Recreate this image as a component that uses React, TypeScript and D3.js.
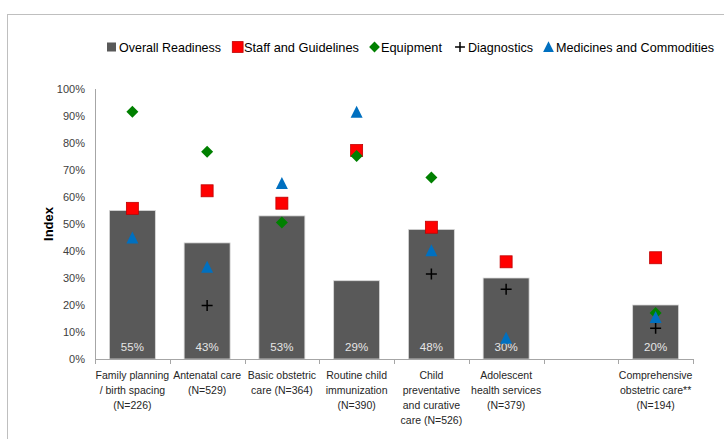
import React from "react";
import * as d3 from "d3";

const categories: string[][] = [
  ["Family planning", "/ birth spacing", "(N=226)"],
  ["Antenatal care", "(N=529)"],
  ["Basic obstetric", "care (N=364)"],
  ["Routine child", "immunization", "(N=390)"],
  ["Child", "preventative", "and curative", "care (N=526)"],
  ["Adolescent", "health services", "(N=379)"],
  [],
  ["Comprehensive", "obstetric care**", "(N=194)"],
];
const overall: (number | null)[] = [55, 43, 53, 29, 48, 30, null, 20];
const staff: (number | null)[] = [55.8, 62.3, 57.7, 77.2, 48.8, 36, null, 37.5];
const equipment: (number | null)[] = [91.6, 76.8, 50.6, 75.2, 67.2, null, null, 17];
const diagnostics: (number | null)[] = [null, 19.8, null, null, 31.5, 25.8, null, 11.4];
const medicines: (number | null)[] = [44.8, 34, 65, 91.4, 40.1, 7.7, null, 15.4];
const yTicks: number[] = [0, 10, 20, 30, 40, 50, 60, 70, 80, 90, 100];
const legendLabels: string[] = [
  "Overall Readiness",
  "Staff and Guidelines",
  "Equipment",
  "Diagnostics",
  "Medicines and Commodities",
];

const W = 724;
const H = 439;
const left = 95;
const right = 693;
const top = 89;
const bottom = 359;
const font = "'Liberation Sans', Arial, sans-serif";

const RED = "#ff0000";
const GREEN = "#008000";
const BLUE = "#0070c0";
const BAR = "#595959";

function Marker({ type, x, y, s = 1 }: { type: string; x: number; y: number; s?: number }) {
  if (type === "square")
    return (
      <rect x={x - 6 * s} y={y - 6 * s} width={12 * s} height={12 * s} fill={RED} stroke="#c00000" strokeWidth={0.8} />
    );
  if (type === "diamond")
    return <path d={`M${x},${y - 6 * s}L${x + 6 * s},${y}L${x},${y + 6 * s}L${x - 6 * s},${y}Z`} fill={GREEN} />;
  if (type === "plus")
    return (
      <path
        d={`M${x - 5.5 * s},${y}H${x + 5.5 * s}M${x},${y - 5.5 * s}V${y + 5.5 * s}`}
        stroke="#000"
        strokeWidth={1.5}
      />
    );
  return <path d={`M${x},${y - 6.5 * s}L${x + 6 * s},${y + 5.5 * s}L${x - 6 * s},${y + 5.5 * s}Z`} fill={BLUE} />;
}

export default function App() {
  const idx = categories.map((_, i) => String(i));
  const x = d3.scaleBand<string>().domain(idx).range([left, right]).paddingInner(0.385).paddingOuter(0.1925);
  const y = d3.scaleLinear().domain([0, 100]).range([bottom, top]);
  const step = x.step();
  const bw = x.bandwidth();
  const cx = (i: number) => (x(String(i)) as number) + bw / 2;

  const series: { vals: (number | null)[]; type: string }[] = [
    { vals: staff, type: "square" },
    { vals: equipment, type: "diamond" },
    { vals: diagnostics, type: "plus" },
    { vals: medicines, type: "triangle" },
  ];

  const legendMarkX = [111.5, 237.7, 374.5, 460, 548.5];
  const legendTextX = [119, 244, 381, 468, 556];
  const legendTextW = [102, 115, 61, 65, 158];
  const legendTypes = ["bar", "square", "diamond", "plus", "triangle"];
  const ly = 47;

  return (
    <svg width={W} height={H} style={{ position: "absolute", left: 0, top: 0, background: "#fff" }} fontFamily={font}>
      <rect x={7.5} y={14.5} width={W} height={H} fill="#fff" stroke="#bfbfbf" strokeWidth={1} />

      {/* legend */}
      {legendLabels.map((lab, i) => (
        <g key={lab}>
          {legendTypes[i] === "bar" ? (
            <rect x={legendMarkX[i] - 4.5} y={ly - 4.5} width={9} height={9} fill={BAR} />
          ) : (
            <Marker type={legendTypes[i]} x={legendMarkX[i]} y={ly} s={0.9} />
          )}
          <text
            x={legendTextX[i]}
            y={ly}
            dy="0.35em"
            fontSize={13}
            fill="#000"
            textLength={legendTextW[i]}
            lengthAdjust="spacingAndGlyphs"
          >
            {lab}
          </text>
        </g>
      ))}

      {/* y ticks */}
      {yTicks.map((t) => (
        <text key={t} x={85} y={y(t)} dy="0.35em" textAnchor="end" fontSize={11} fill="#404040">
          {t}%
        </text>
      ))}
      <text
        transform={`translate(48,${(top + bottom) / 2}) rotate(-90)`}
        textAnchor="middle"
        dy="0.35em"
        fontSize={13}
        fontWeight="bold"
        fill="#000"
      >
        Index
      </text>

      {/* bars */}
      {overall.map((v, i) =>
        v == null ? null : (
          <g key={i}>
            <rect
              x={x(String(i))}
              y={y(v)}
              width={bw}
              height={y(0) - y(v)}
              fill={BAR}
              stroke="#d9d9d9"
              strokeWidth={0.8}
            />
            <text x={cx(i)} y={y(0) - 12} dy="0.35em" textAnchor="middle" fontSize={11.5} fill="#e6e6e6">
              {Math.round(v)}%
            </text>
          </g>
        )
      )}

      {/* axes */}
      <line x1={left + 0.5} x2={left + 0.5} y1={top} y2={bottom} stroke="#a6a6a6" />
      <line x1={left} x2={right} y1={bottom + 0.5} y2={bottom + 0.5} stroke="#a6a6a6" />
      {d3.range(categories.length + 1).map((i) => (
        <line
          key={i}
          x1={Math.round(left + i * step) + 0.5}
          x2={Math.round(left + i * step) + 0.5}
          y1={bottom}
          y2={bottom + 5}
          stroke="#a6a6a6"
        />
      ))}

      {/* markers */}
      {series.map((s) =>
        s.vals.map((v, i) => (v == null ? null : <Marker key={s.type + i} type={s.type} x={cx(i)} y={y(v)} />))
      )}

      {/* x labels */}
      {categories.map((lines, i) =>
        lines.map((ln, j) => (
          <text
            key={i + "-" + j}
            x={cx(i)}
            y={375 + j * 15}
            dy="0.35em"
            textAnchor="middle"
            fontSize={10.5}
            fill="#262626"
          >
            {ln}
          </text>
        ))
      )}
    </svg>
  );
}
